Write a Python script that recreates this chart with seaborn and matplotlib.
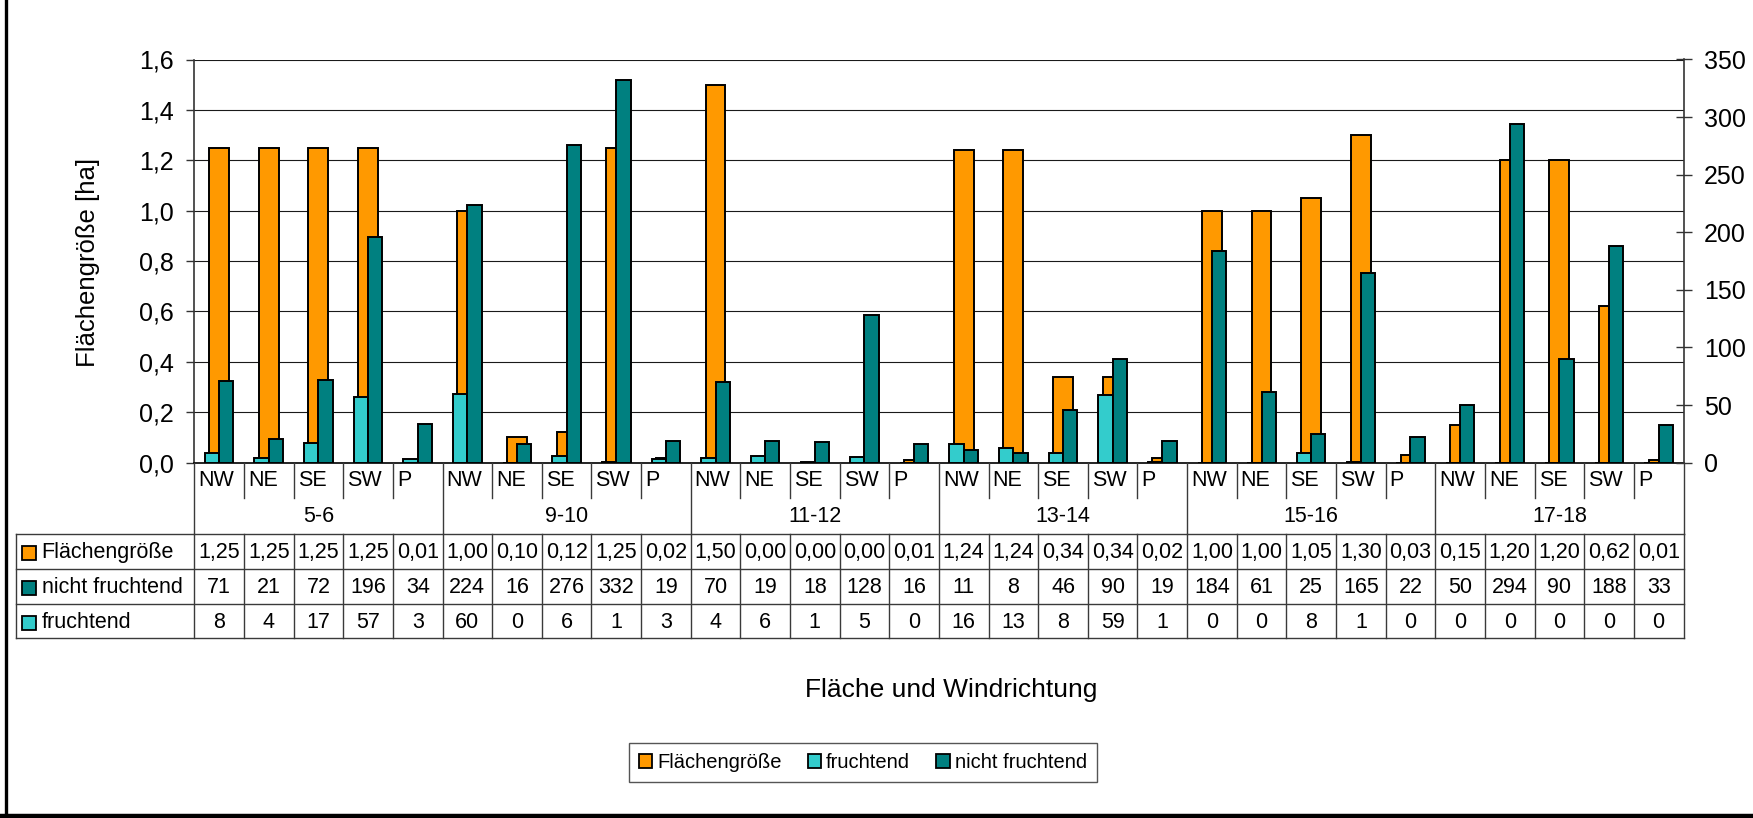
import numpy as np
import pandas as pd
import matplotlib
matplotlib.use("Agg")
import matplotlib.pyplot as plt
import matplotlib.transforms as mtransforms
from matplotlib.lines import Line2D
from matplotlib.patches import Patch, Rectangle
from matplotlib.ticker import FuncFormatter, MultipleLocator
import seaborn as sns

plt.rcParams['font.family'] = ['Liberation Sans', 'DejaVu Sans']

# ---------------- data ----------------
groups = ['5-6', '9-10', '11-12', '13-14', '15-16', '17-18']
dirs = ['NW', 'NE', 'SE', 'SW', 'P']
flaeche = [1.25, 1.25, 1.25, 1.25, 0.01,
           1.00, 0.10, 0.12, 1.25, 0.02,
           1.50, 0.00, 0.00, 0.00, 0.01,
           1.24, 1.24, 0.34, 0.34, 0.02,
           1.00, 1.00, 1.05, 1.30, 0.03,
           0.15, 1.20, 1.20, 0.62, 0.01]
nicht_fruchtend = [71, 21, 72, 196, 34,
                   224, 16, 276, 332, 19,
                   70, 19, 18, 128, 16,
                   11, 8, 46, 90, 19,
                   184, 61, 25, 165, 22,
                   50, 294, 90, 188, 33]
fruchtend = [8, 4, 17, 57, 3,
             60, 0, 6, 1, 3,
             4, 6, 1, 5, 0,
             16, 13, 8, 59, 1,
             0, 0, 8, 1, 0,
             0, 0, 0, 0, 0]
series_names = ['Flächengröße', 'fruchtend', 'nicht fruchtend']

ORANGE = '#FF9900'
CYAN = '#33CCCC'
TEAL = '#008080'

ids = [f"{g}|{d}" for g in groups for d in dirs]
df = pd.DataFrame({'id': ids, 'Flächengröße': flaeche,
                   'nicht fruchtend': nicht_fruchtend, 'fruchtend': fruchtend})
long = df.melt(id_vars='id', value_vars=['fruchtend', 'nicht fruchtend'],
               var_name='Serie', value_name='Anzahl')

# ---------------- geometry (pixels) ----------------
W, H = 1753, 818
L, R, T, B = 194.3, 1683.5, 59.5, 462.7


def fx(x):
    return x / W


def fy(y):
    return 1 - y / H


fig = plt.figure(figsize=(W / 100, H / 100), dpi=100)
ax = fig.add_axes([fx(L), fy(B), (R - L) / W, (B - T) / H])
ax2 = ax.twinx()

EDGE_LW = 1.4
sns.barplot(data=df, x='id', y='Flächengröße', order=ids, color=ORANGE,
            saturation=1, width=0.4, edgecolor='black', linewidth=EDGE_LW,
            errorbar=None, ax=ax, zorder=2)
sns.barplot(data=long, x='id', y='Anzahl', hue='Serie', order=ids,
            hue_order=['fruchtend', 'nicht fruchtend'], palette=[CYAN, TEAL],
            saturation=1, width=0.575, gap=0, dodge=True, edgecolor='black',
            linewidth=EDGE_LW, errorbar=None, ax=ax2, legend=False, zorder=2)

for a in (ax, ax2):
    a.set_xlim(-0.5, len(ids) - 0.5)
    a.set_xlabel('')
    a.set_ylabel('')
    a.tick_params(axis='x', bottom=False, labelbottom=False, top=False)
    for s in a.spines.values():
        s.set_visible(False)

TICK_FS = 18
ax.set_ylim(0, 1.6)
ax.yaxis.set_major_locator(MultipleLocator(0.2))
ax.yaxis.set_major_formatter(FuncFormatter(lambda v, p: f"{v:.1f}".replace('.', ',')))
ax.set_axisbelow(True)
ax.yaxis.grid(True, color='#1a1a1a', lw=0.8)
ax.spines['left'].set_visible(True)
ax.spines['left'].set_color('#333333')
ax.spines['left'].set_linewidth(1.2)
ax.spines['bottom'].set_visible(True)
ax.spines['bottom'].set_color('black')
ax.spines['bottom'].set_linewidth(1.2)
ax.tick_params(axis='y', direction='out', length=5.5, width=1, color='#333333',
               pad=9.5, labelsize=TICK_FS)

ax2.set_ylim(0, 350)
ax2.yaxis.set_major_locator(MultipleLocator(50))
ax2.spines['right'].set_visible(True)
ax2.spines['right'].set_color('#333333')
ax2.spines['right'].set_linewidth(1.2)
ax2.tick_params(axis='y', direction='inout', length=12, width=1, color='#333333',
                pad=8.8, labelsize=TICK_FS)

# ---------------- data table under the plot ----------------
tr = mtransforms.blended_transform_factory(ax.transData, fig.transFigure)
LINE_C = '#3a3a3a'
LINE_W = 1.0
n = len(ids)
cw = (R - L) / n

rows_y = [534.3, 569.3, 604.3, 638.3]
TL = 16.0
for y in rows_y:
    fig.add_artist(Line2D([fx(TL), fx(R)], [fy(y), fy(y)], color=LINE_C, lw=LINE_W))
fig.add_artist(Line2D([fx(TL), fx(TL)], [fy(rows_y[0]), fy(rows_y[-1])], color=LINE_C, lw=LINE_W))

for k in range(n + 1):
    b = k - 0.5
    fig.add_artist(Line2D([b, b], [fy(rows_y[0]), fy(rows_y[-1])], transform=tr,
                          color=LINE_C, lw=LINE_W))
    if k % len(dirs) == 0:
        fig.add_artist(Line2D([b, b], [fy(B), fy(rows_y[0])], transform=tr,
                              color=LINE_C, lw=LINE_W))
    else:
        fig.add_artist(Line2D([b, b], [fy(B), fy(498)], transform=tr,
                              color=LINE_C, lw=LINE_W))

TABLE_FS = 15.5
off = 4.0 / cw
for i, cid in enumerate(ids):
    d = cid.split('|')[1]
    fig.text(i - 0.5 + off, fy(481), d, transform=tr, ha='left', va='center',
             fontsize=15.5)
for g, name in enumerate(groups):
    fig.text(g * len(dirs) + (len(dirs) - 1) / 2, fy(516.5), name, transform=tr,
             ha='center', va='center', fontsize=15.5)

row_series = [('Flächengröße', ORANGE, [f"{v:.2f}".replace('.', ',') for v in flaeche]),
              ('nicht fruchtend', TEAL, [str(v) for v in nicht_fruchtend]),
              ('fruchtend', CYAN, [str(v) for v in fruchtend])]
for r, (name, col, vals) in enumerate(row_series):
    yc = (rows_y[r] + rows_y[r + 1]) / 2
    fig.add_artist(Rectangle((fx(21.7), fy(yc + 8.5)), 14.5 / W, 14 / H,
                             facecolor=col, edgecolor='black', lw=1.3,
                             transform=fig.transFigure))
    fig.text(fx(41.7), fy(yc + 1), name, ha='left', va='center', fontsize=TABLE_FS)
    for i, v in enumerate(vals):
        fig.text(i, fy(yc + 1), v, transform=tr, ha='center', va='center',
                 fontsize=TABLE_FS)

# ---------------- titles ----------------
fig.text(fx(88), fy(262), 'Flächengröße [ha]', rotation=90, ha='center',
         va='center', fontsize=18.5)
fig.text(fx(951), fy(690), 'Fläche und Windrichtung', ha='center', va='center',
         fontsize=19)

# ---------------- legend ----------------
handles = [Patch(facecolor=c, edgecolor='black', lw=1.3, label=s)
           for s, c in zip(series_names, [ORANGE, CYAN, TEAL])]
leg = fig.legend(handles=handles, ncol=3, loc='center',
                 bbox_to_anchor=(fx(863), fy(762.5)), frameon=True,
                 fancybox=False, edgecolor='#555555', framealpha=1,
                 fontsize=14.5, handlelength=0.65, handleheight=0.65,
                 handletextpad=0.25, columnspacing=1.3, borderpad=0.5,
                 borderaxespad=0)
leg.get_frame().set_linewidth(1.0)

# ---------------- outer chart border (left & bottom visible) ----------------
fig.add_artist(Line2D([fx(5.7), fx(5.7)], [0, 1], color='black', lw=2.4))
fig.add_artist(Line2D([0, 1], [fy(815.8), fy(815.8)], color='black', lw=3.2))

fig.savefig('out.png', dpi=100, facecolor='white')
